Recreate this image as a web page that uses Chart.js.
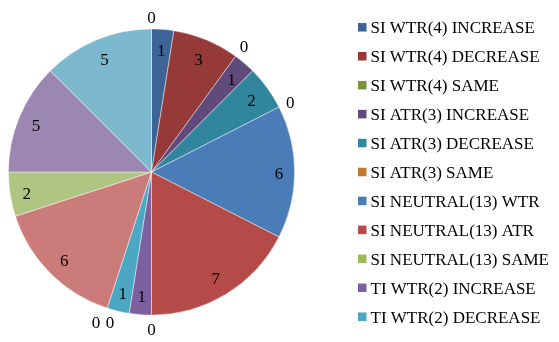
<!DOCTYPE html>
<html>
<head>
<meta charset="utf-8">
<script src="https://cdn.jsdelivr.net/npm/chart.js@4"></script>
<style>
  html, body { margin: 0; padding: 0; background: #fff; }
  #wrap { width: 559px; height: 342px; }
</style>
</head>
<body>
<div id="wrap"><canvas id="grafico" width="559" height="342"></canvas></div>
<script>
// categorias e contagens (sentido horário a partir do topo)
const categorias = [
  'SI WTR(4) INCREASE', 'SI WTR(4) DECREASE', 'SI WTR(4) SAME',
  'SI ATR(3) INCREASE', 'SI ATR(3) DECREASE', 'SI ATR(3) SAME',
  'SI NEUTRAL(13) WTR', 'SI NEUTRAL(13) ATR', 'SI NEUTRAL(13) SAME',
  'TI WTR(2) INCREASE', 'TI WTR(2) DECREASE', 'TI WTR(2) SAME',
  'TI ATR(8) INCREASE', 'TI ATR(8) DECREASE', 'TI ATR(8) SAME',
  'TI NEUTRAL(10) WTR', 'TI NEUTRAL(10) ATR', 'TI NEUTRAL(10) SAME'
];
const contagens = [1, 3, 0, 1, 2, 0, 6, 7, 0, 1, 1, 0, 0, 6, 2, 5, 5, 0];
const cores = [
  '#3C6496', '#953A38', '#77933C', '#604A7B', '#31859C', '#C4772F',
  '#4A7CB8', '#B54B48', '#9BBB59', '#7D60A0', '#4AA8C2', '#F79646',
  '#7E9FD0', '#CB7C7A', '#AFC682', '#9C87B3', '#7DB9CE', '#F9B37E'
];
const itensLegenda = 11; // só cabem 11 itens na coluna da direita

const FONTE = '17px "Liberation Serif", "Times New Roman", serif';

// rótulos de valor: dentro da fatia, ou fora quando o valor é zero
const rotulosPlugin = {
  id: 'rotulos',
  afterDatasetsDraw(chart) {
    const ctx = chart.ctx;
    const meta = chart.getDatasetMeta(0);
    const valores = chart.data.datasets[0].data;
    const hw = 4.5, hh = 8, ajusteY = 2.5;
    const fora = [];
    ctx.save();
    ctx.font = FONTE;
    ctx.fillStyle = '#000';
    ctx.textAlign = 'center';
    ctx.textBaseline = 'middle';
    meta.data.forEach((arc, i) => {
      const p = arc.getProps(['x', 'y', 'startAngle', 'endAngle', 'outerRadius'], true);
      const meio = (p.startAngle + p.endAngle) / 2;
      const c = Math.cos(meio), s = Math.sin(meio);
      const ext = Math.abs(c) * hw + Math.abs(s) * hh;
      if (valores[i] > 0) {
        const d = p.outerRadius - 11 - ext;
        ctx.fillText(String(valores[i]), p.x + c * d, p.y + s * d + ajusteY);
      } else {
        const d = p.outerRadius + 5 + ext;
        fora.push({ meio, x: p.x + c * d, y: p.y + s * d + ajusteY, v: valores[i] });
      }
    });
    // zeros no mesmo ângulo ficam lado a lado
    const grupos = {};
    fora.forEach(r => {
      const k = r.meio.toFixed(4);
      (grupos[k] = grupos[k] || []).push(r);
    });
    Object.values(grupos).forEach(g => {
      g.forEach((r, j) => {
        const dx = (j - (g.length - 1) / 2) * 14;
        ctx.fillText(String(r.v), r.x + dx, r.y);
      });
    });
    ctx.restore();
  }
};

// legenda desenhada à mão na coluna da direita
const legendaPlugin = {
  id: 'legendaLateral',
  afterDraw(chart) {
    const ctx = chart.ctx;
    const x0 = 358, y0 = 27.3, passo = 28.94, lado = 8.5;
    ctx.save();
    ctx.font = FONTE;
    ctx.textAlign = 'left';
    ctx.textBaseline = 'middle';
    for (let i = 0; i < itensLegenda; i++) {
      const y = y0 + i * passo;
      ctx.fillStyle = cores[i];
      ctx.fillRect(x0, y - lado / 2, lado, lado);
      ctx.fillStyle = '#000';
      ctx.fillText(chart.data.labels[i], x0 + 12.5, y + 1.5);
    }
    ctx.restore();
  }
};

new Chart(document.getElementById('grafico'), {
  type: 'pie',
  data: {
    labels: categorias,
    datasets: [{
      data: contagens,
      backgroundColor: cores,
      borderColor: 'rgba(255,255,255,0.55)',
      borderWidth: 0.8
    }]
  },
  options: {
    responsive: false,
    animation: false,
    layout: { padding: { left: 8, top: 28, right: 264, bottom: 26 } },
    plugins: {
      legend: { display: false },
      tooltip: { enabled: false }
    }
  },
  plugins: [rotulosPlugin, legendaPlugin]
});
</script>
</body>
</html>
